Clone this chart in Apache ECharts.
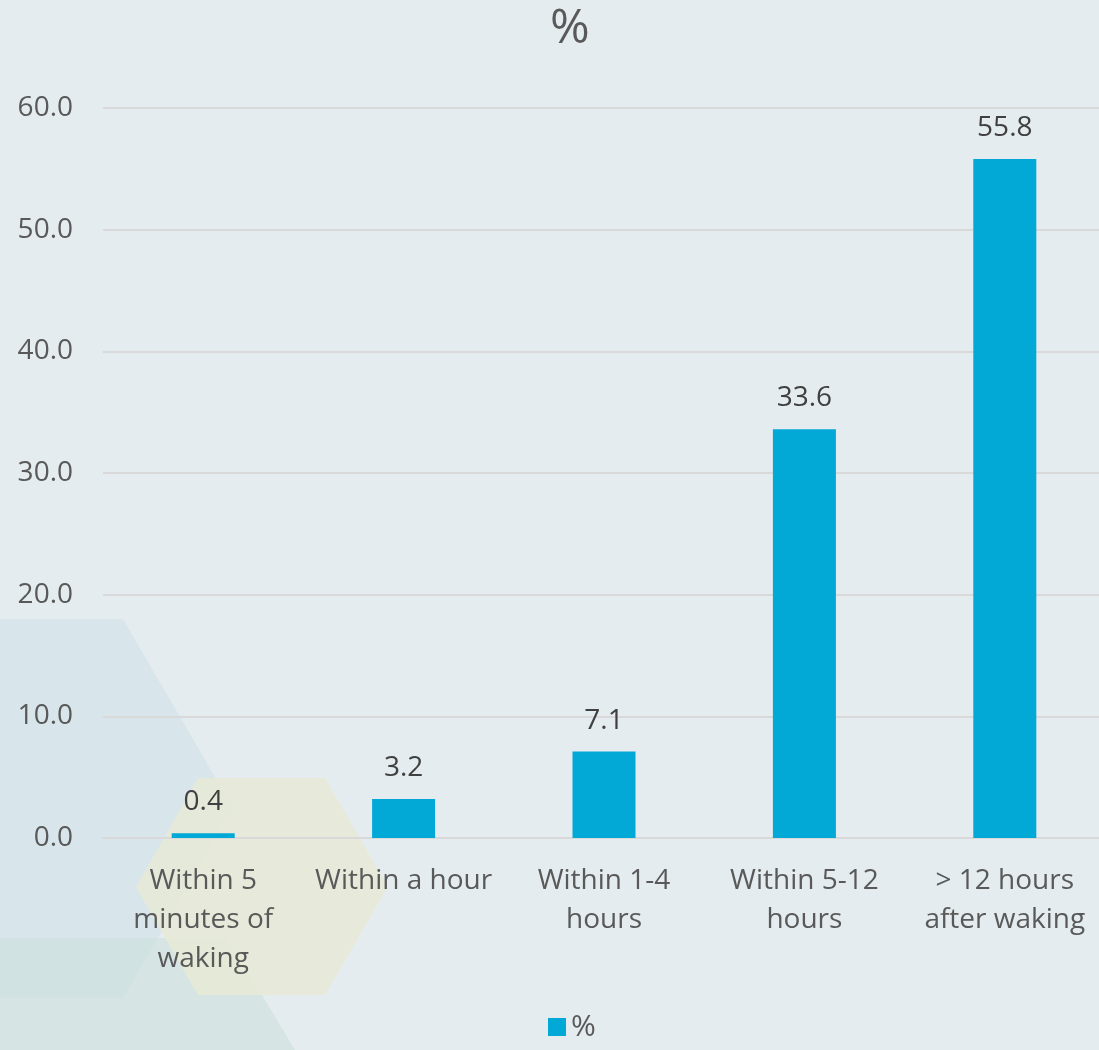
<!DOCTYPE html>
<html><head><meta charset="utf-8">
<script src="https://cdn.jsdelivr.net/npm/echarts@6/dist/echarts.min.js"></script>
<style>html,body{margin:0;padding:0;background:#e4ecef;}#c{width:1099px;height:1050px;}</style>
</head><body><div id="c"></div>
<script>
const categories = ["Within 5\nminutes of\nwaking", "Within a hour", "Within 1-4\nhours", "Within 5-12\nhours", "> 12 hours\nafter waking"];
const values = [0.4, 3.2, 7.1, 33.6, 55.8];
const seriesName = "%";
const yTicks = {min: 0, max: 60, interval: 10};

const FONT = "Open Sans";
const chart = echarts.init(document.getElementById('c'));
chart.setOption({
  backgroundColor: '#e4ecef',
  textStyle: {fontFamily: FONT},
  graphic: [
    {type: 'polygon', z: -10, silent: true, shape: {points: [[0,619],[123,619],[233,808],[123,998],[0,998]]}, style: {fill: '#d8e5eb'}},
    {type: 'polygon', z: -9, silent: true, shape: {points: [[0,938],[228,938],[295,1050],[0,1050]]}, style: {fill: 'rgba(205,224,220,0.6)'}},
    {type: 'polygon', z: -8, silent: true, shape: {points: [[136,887],[198,778],[325,778],[388,887],[325,995],[198,995]]}, style: {fill: 'rgba(232,234,214,0.85)'}}
  ],
  title: {text: seriesName, left: 545, top: 0, textStyle: {fontFamily: FONT, fontSize: 48, fontWeight: 'normal', color: '#595959'}},
  legend: {data: [seriesName], left: 543, top: 1007, itemWidth: 18, itemHeight: 18, icon: 'rect', itemGap: 8,
    textStyle: {fontFamily: FONT, fontSize: 30, color: '#595959', padding: [14,0,0,0]}},
  grid: {left: 103, width: 1002, top: 108, bottom: 212, containLabel: false, outerBoundsMode: 'none'},
  xAxis: {type: 'category', data: categories,
    axisLine: {show: true, lineStyle: {color: '#d9d9d9', width: 2}}, axisTick: {show: false},
    axisLabel: {fontFamily: FONT, fontSize: 28, color: '#595959', lineHeight: 39, margin: 24, interval: 0}},
  yAxis: {type: 'value', min: yTicks.min, max: yTicks.max, interval: yTicks.interval,
    axisLine: {show: false}, axisTick: {show: false},
    splitLine: {lineStyle: {color: '#d9d9d9', width: 2}},
    axisLabel: {fontFamily: FONT, fontSize: 28, color: '#595959', margin: 30, formatter: v => v.toFixed(1)}},
  series: [{name: seriesName, type: 'bar', data: values, barWidth: 63,
    itemStyle: {color: '#02a8d6'},
    label: {show: true, position: 'top', distance: 17, fontFamily: FONT, fontSize: 28, color: '#404040', formatter: p => p.value.toFixed(1)}}]
});
</script></body></html>
